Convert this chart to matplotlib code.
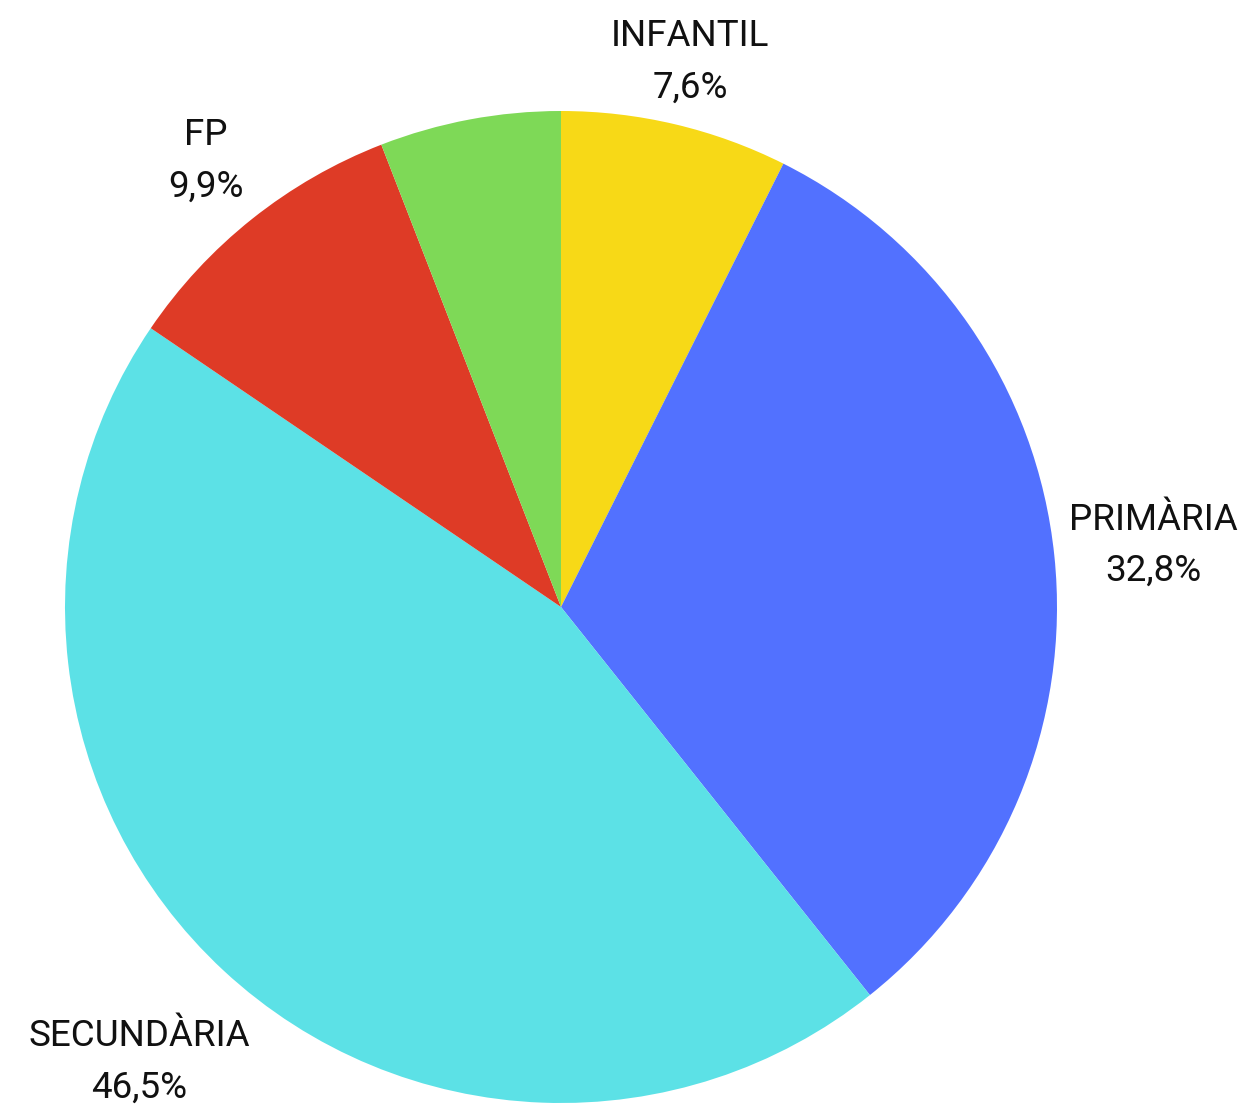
import numpy as np
import matplotlib.pyplot as plt

# slice sizes (angles), printed labels as shown
categories = ["INFANTIL", "PRIMÀRIA", "SECUNDÀRIA", "FP", ""]
slice_values = [7.4, 31.9, 45.2, 9.6, 5.9]
pct_labels = ["7,6%", "32,8%", "46,5%", "9,9%", ""]
colors = ["#F7D917", "#5271FF", "#5CE1E6", "#DE3B26", "#7ED957"]
label_dist = [1.13, 1.20, 1.25, 1.15, 0]

plt.rcParams["font.family"] = ["Roboto", "DejaVu Sans"]

fig = plt.figure(figsize=(12.49, 11.07), dpi=100)
ax = fig.add_axes([0, 0, 1, 1])

wedges, _ = ax.pie(slice_values, colors=colors, startangle=90,
                   counterclock=False, radius=1.0,
                   wedgeprops=dict(linewidth=0))

for w, cat, pct, d in zip(wedges, categories, pct_labels, label_dist):
    if not cat:
        continue
    mid = np.deg2rad((w.theta1 + w.theta2) / 2)
    x, y = d * np.cos(mid), d * np.sin(mid)
    ax.text(x, y, f"{cat}\n{pct}", ha="center", va="center",
            fontsize=26.5, linespacing=1.55, color="#111111")

# pixel layout: centre at (561, 607), radius 496 px
r = 496.0
ax.set_xlim(-561 / r, (1249 - 561) / r)
ax.set_ylim(-(1107 - 607) / r, 607 / r)
ax.set_aspect("auto")
ax.axis("off")

fig.savefig("out.png", dpi=100)
